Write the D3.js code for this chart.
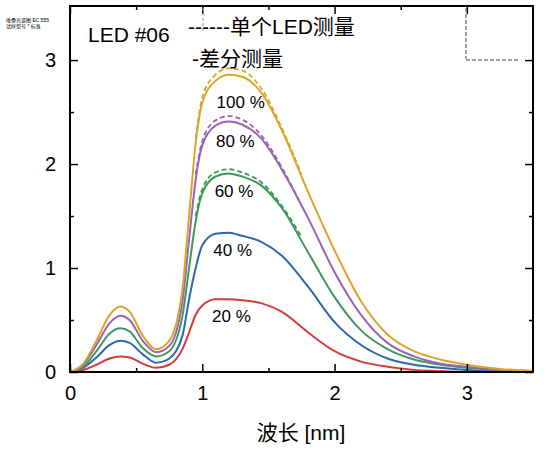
<!DOCTYPE html>
<html><head><meta charset="utf-8">
<script src="https://cdn.jsdelivr.net/npm/d3@7"></script>
<style>body{margin:0;background:#fff}text{font-family:"Liberation Sans",Arial,"Noto Sans CJK SC",sans-serif}</style>
</head><body><svg id="c" width="553" height="454"></svg>
<script>
var xs   = [0,0.1,0.2,0.3,0.38,0.45,0.55,0.65,0.75,0.85,0.9,0.95,1.0,1.1,1.2,1.3,1.45,1.6,1.8,2.0,2.2,2.4,2.6,2.8,3.0,3.25,3.5];
var s100 = [0,0.08,0.3,0.55,0.63,0.58,0.35,0.22,0.3,0.8,1.5,2.2,2.59,2.8,2.86,2.84,2.68,2.33,1.73,1.17,0.68,0.36,0.2,0.12,0.07,0.03,0.01];
var s80  = [0,0.07,0.26,0.47,0.54,0.5,0.3,0.19,0.25,0.68,1.27,1.85,2.18,2.37,2.41,2.38,2.24,1.95,1.48,0.96,0.55,0.28,0.15,0.08,0.05,0.02,0.01];
var s60  = [0,0.05,0.2,0.37,0.42,0.39,0.23,0.15,0.2,0.54,1.0,1.45,1.72,1.88,1.91,1.88,1.79,1.58,1.15,0.72,0.4,0.22,0.12,0.07,0.04,0.02,0];
var s40  = [0,0.04,0.14,0.26,0.3,0.28,0.17,0.09,0.13,0.35,0.7,1.0,1.22,1.33,1.34,1.31,1.25,1.12,0.82,0.48,0.26,0.13,0.07,0.04,0.02,0.01,0];
var s20  = [0,0.02,0.07,0.13,0.15,0.14,0.08,0.04,0.07,0.22,0.38,0.55,0.64,0.7,0.7,0.69,0.66,0.58,0.38,0.2,0.1,0.05,0.02,0.01,0,0,0];
var dx   = [0.95,1.0,1.1,1.2,1.3,1.45,1.6,1.75];
var d100 = [2.25,2.64,2.86,2.92,2.9,2.72,2.35,1.9];
var d80  = [1.9,2.22,2.42,2.46,2.43,2.27,1.97,1.6];
var d60  = [1.5,1.76,1.92,1.95,1.92,1.82,1.6,1.3];
var series = [
  {name:"100 %", v:s100, d:d100, color:"#dba42a", lab:[1.29,2.54]},
  {name:"80 %",  v:s80,  d:d80,  color:"#9a63b5", lab:[1.25,2.16]},
  {name:"60 %",  v:s60,  d:d60,  color:"#3e9a5b", lab:[1.24,1.68]},
  {name:"40 %",  v:s40,  d:null, color:"#2e68a8", lab:[1.23,1.12]},
  {name:"20 %",  v:s20,  d:null, color:"#d53c3c", lab:[1.22,0.48]}
];
var xTicks = [0,1,2,3], xMinor = [0.5,1.5,2.5], yTicks = [0,1,2,3], yMinor = [0.5,1.5,2.5];

var svg = d3.select("#c");
var x = d3.scaleLinear().domain([0,3.5]).range([70,533]);
var y = d3.scaleLinear().domain([0,3.52]).range([372,6]);
var line = d3.line().x(function(d){return x(d[0]);}).y(function(d){return y(d[1]);}).curve(d3.curveMonotoneX);

series.slice().reverse().forEach(function(s){
  svg.append("path").datum(xs.map(function(v,i){return [v,s.v[i]];}))
    .attr("d",line).attr("fill","none").attr("stroke",s.color).attr("stroke-width",2);
  if (s.d) svg.append("path").datum(dx.map(function(v,i){return [v,s.d[i]];}))
    .attr("d",line).attr("fill","none").attr("stroke",s.color).attr("stroke-width",1.8).attr("stroke-dasharray","5,3");
  svg.append("text").attr("x",x(s.lab[0])).attr("y",y(s.lab[1])).attr("text-anchor","middle")
    .attr("font-size",17).text(s.name);
});

function ax(g,a){ g.call(a); g.select(".domain").remove(); g.selectAll("line").attr("stroke","#000").attr("stroke-width",1.5); }
ax(svg.append("g").attr("transform","translate(0,372)"), d3.axisBottom(x).tickValues(xTicks).tickSize(-8).tickPadding(14).tickFormat(d3.format("d")));
ax(svg.append("g").attr("transform","translate(0,372)"), d3.axisBottom(x).tickValues(xMinor).tickSize(-4).tickFormat(""));
ax(svg.append("g").attr("transform","translate(0,6)"), d3.axisTop(x).tickValues(xTicks).tickSize(-8).tickFormat(""));
ax(svg.append("g").attr("transform","translate(0,6)"), d3.axisTop(x).tickValues(xMinor).tickSize(-4).tickFormat(""));
ax(svg.append("g").attr("transform","translate(70,0)"), d3.axisLeft(y).tickValues(yTicks).tickSize(-8).tickPadding(14).tickFormat(d3.format("d")));
ax(svg.append("g").attr("transform","translate(70,0)"), d3.axisLeft(y).tickValues(yMinor).tickSize(-4).tickFormat(""));
ax(svg.append("g").attr("transform","translate(533,0)"), d3.axisRight(y).tickValues(yTicks).tickSize(-8).tickFormat(""));
ax(svg.append("g").attr("transform","translate(533,0)"), d3.axisRight(y).tickValues(yMinor).tickSize(-4).tickFormat(""));
svg.selectAll(".tick text").attr("font-size",20).attr("fill","#000");
svg.append("rect").attr("x",70).attr("y",6).attr("width",463).attr("height",366).attr("fill","none").attr("stroke","#000").attr("stroke-width",2);

svg.append("text").attr("x",301).attr("y",440).attr("text-anchor","middle").attr("font-size",21).text("波长 [nm]");
svg.append("text").attr("x",88).attr("y",42).attr("font-size",21).text("LED #06");
svg.append("text").attr("x",188).attr("y",34).attr("font-size",21).text("------单个LED测量");
svg.append("text").attr("x",192).attr("y",66).attr("font-size",21).text("-差分测量");
svg.append("line").attr("x1",203).attr("x2",203).attr("y1",8).attr("y2",32).attr("stroke","#999").attr("stroke-dasharray","3,2");
svg.append("line").attr("x1",466).attr("x2",466).attr("y1",8).attr("y2",59).attr("stroke","#444").attr("stroke-dasharray","4,2");
svg.append("line").attr("x1",466).attr("x2",518).attr("y1",60).attr("y2",60).attr("stroke","#444").attr("stroke-dasharray","4,2");
svg.append("text").attr("x",6).attr("y",22).attr("font-size",5).text("堆叠光谱图 EC 555");
svg.append("text").attr("x",6).attr("y",28).attr("font-size",5).text("试样型号 * 标准");
</script></body></html>
